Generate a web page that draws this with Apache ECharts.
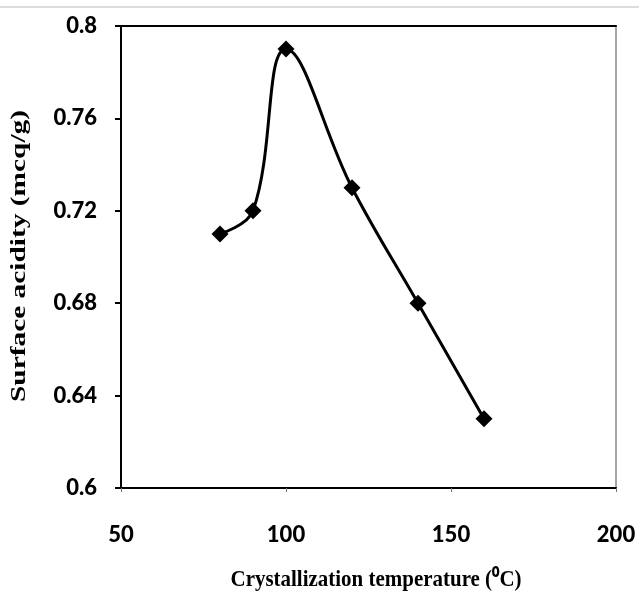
<!DOCTYPE html>
<html>
<head>
<meta charset="utf-8">
<script src="https://cdn.jsdelivr.net/npm/echarts@6/dist/echarts.min.js"></script>
<style>html,body{margin:0;padding:0;background:#fff}#c{width:639px;height:596px}</style>
</head>
<body>
<div id="c"></div>
<script>
const temperatures = [80, 90, 100, 120, 140, 160];
const acidity = [0.71, 0.72, 0.79, 0.73, 0.68, 0.63];
const xTicks = [50, 100, 150, 200];
const yTicks = [0.6, 0.64, 0.68, 0.72, 0.76, 0.8];
const xTitle = 'Crystallization temperature (\u2070C)';
const yTitle = 'Surface acidity (mcq/g)';

const titleFontY = 'bold 22px "Liberation Serif"';
const titleFontX = 'bold 23px "Liberation Serif"';
const cv = document.createElement('canvas').getContext('2d');
cv.font = titleFontY;
const yScale = 292 / cv.measureText(yTitle).width;
cv.font = titleFontX;
const xScale = 291 / cv.measureText(xTitle).width;

const chart = echarts.init(document.getElementById('c'), null, {renderer: 'canvas'});
const labelFont = {fontFamily: 'Lato', fontWeight: 900, fontSize: 22, color: '#000'};
chart.setOption({
  animation: false,
  backgroundColor: '#fff',
  graphic: [{
    type: 'line', shape: {x1: 0, y1: 7, x2: 639, y2: 7},
    style: {stroke: '#d0d0d0', lineWidth: 1.5}
  }, {
    type: 'text', x: 19, y: 256, rotation: Math.PI / 2, scaleX: yScale,
    style: {text: yTitle, font: titleFontY, fill: '#000', align: 'center', verticalAlign: 'middle'}
  }, {
    type: 'text', x: 376, y: 580, scaleX: xScale,
    style: {text: xTitle, font: titleFontX, fill: '#000', align: 'center', verticalAlign: 'middle'}
  }],
  grid: {left: 121, right: 23, top: 26, bottom: 108, containLabel: false},
  xAxis: [{
    type: 'value', min: xTicks[0], max: xTicks[xTicks.length - 1], interval: 50,
    position: 'bottom',
    axisLine: {lineStyle: {color: '#000', width: 2}},
    axisTick: {show: true, length: 4, lineStyle: {color: '#777', width: 1}},
    axisLabel: Object.assign({margin: 36}, labelFont),
    splitLine: {show: false}
  }, {
    type: 'value', min: xTicks[0], max: xTicks[xTicks.length - 1],
    position: 'top',
    axisLine: {lineStyle: {color: '#000', width: 2}},
    axisTick: {show: false}, axisLabel: {show: false}, splitLine: {show: false}
  }],
  yAxis: [{
    type: 'value', min: yTicks[0], max: yTicks[yTicks.length - 1], interval: 0.04,
    position: 'left',
    axisLine: {lineStyle: {color: '#000', width: 2}},
    axisTick: {show: true, length: 6, lineStyle: {color: '#000', width: 2}},
    axisLabel: Object.assign({margin: 24, formatter: v => String(+v.toFixed(2))}, labelFont),
    splitLine: {show: false}
  }, {
    type: 'value', min: yTicks[0], max: yTicks[yTicks.length - 1],
    position: 'right',
    axisLine: {lineStyle: {color: '#888', width: 1.5}},
    axisTick: {show: false}, axisLabel: {show: false}, splitLine: {show: false}
  }],
  series: [{
    type: 'line',
    xAxisIndex: 0, yAxisIndex: 0,
    data: temperatures.map((t, i) => [t, acidity[i]]),
    smooth: 0.4,
    symbol: 'diamond', symbolSize: 17,
    lineStyle: {color: '#000', width: 3},
    itemStyle: {color: '#000'}
  }]
});
</script>
</body>
</html>
